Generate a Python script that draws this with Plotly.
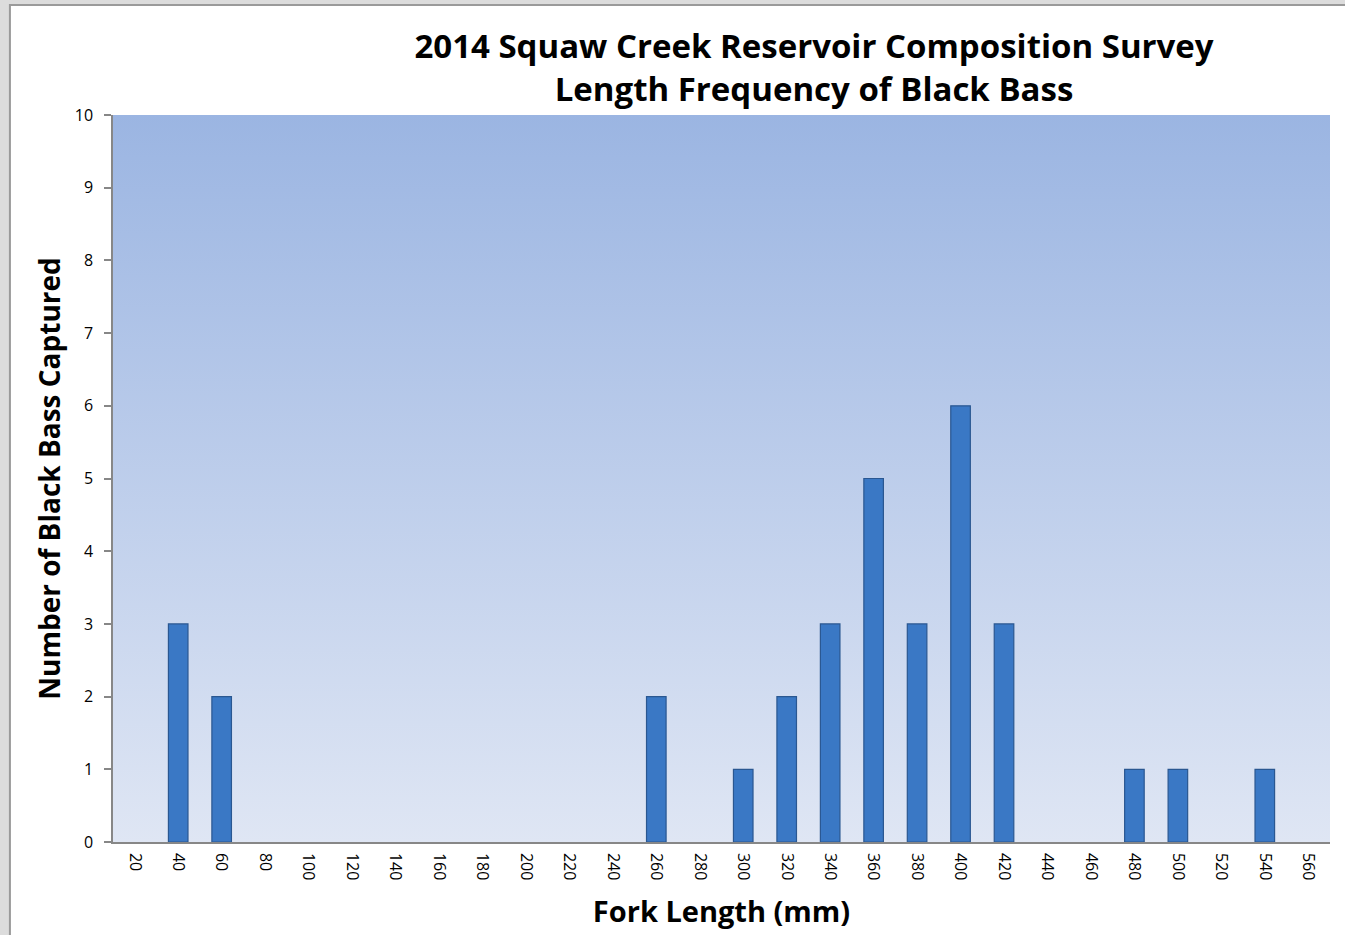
import plotly.graph_objects as go

# fork length classes (mm) and number of black bass captured
LENGTHS = [20, 40, 60, 80, 100, 120, 140, 160, 180, 200, 220, 240, 260, 280,
           300, 320, 340, 360, 380, 400, 420, 440, 460, 480, 500, 520, 540, 560]
COUNTS = [0, 3, 2, 0, 0, 0, 0, 0, 0, 0, 0, 0, 2, 0,
          1, 2, 3, 5, 3, 6, 3, 0, 0, 1, 1, 0, 1, 0]
Y_TICKS = list(range(0, 11))

TITLE = "2014 Squaw Creek Reservoir Composition Survey<br>Length Frequency of Black Bass"
FONT = "Open Sans"
AXIS_GREY = "#878787"

step = LENGTHS[1] - LENGTHS[0]
x_lo, x_hi = LENGTHS[0] - step / 2, LENGTHS[-1] + step / 2
y_lo, y_hi = Y_TICKS[0], Y_TICKS[-1]

# empty classes get no bar (Excel draws nothing there)
bar_x = [l for l, c in zip(LENGTHS, COUNTS) if c > 0]
bar_y = [c for c in COUNTS if c > 0]

fig = go.Figure()

# plot-area background gradient (on the base axes, bars sit on an overlay)
fig.add_trace(go.Scatter(
    x=[x_lo, x_hi, x_hi, x_lo, x_lo],
    y=[y_lo, y_lo, y_hi, y_hi, y_lo],
    mode="lines", line=dict(width=0), fill="toself",
    fillgradient=dict(type="vertical",
                      colorscale=[[0, "#dfe6f4"], [1, "#9bb5e2"]]),
    hoverinfo="skip", showlegend=False,
))

fig.add_trace(go.Bar(
    x=bar_x, y=bar_y, width=step * 0.45,
    xaxis="x2", yaxis="y2",
    marker=dict(color="#3a78c5", line=dict(color="#2a5791", width=1.2)),
    showlegend=False,
))

fig.update_layout(
    width=1345, height=935,
    margin=dict(l=113, r=15, t=115, b=93),
    paper_bgcolor="#dcdcdc",
    plot_bgcolor="#c4d2ec",
    font=dict(family=FONT, color="#000000"),
    title=dict(text=TITLE, x=814 / 1345, xanchor="center", xref="container",
               y=1 - 58 / 935, yanchor="middle", yref="container",
               font=dict(family=FONT, size=33, color="#000000", weight="bold")),
    xaxis=dict(range=[x_lo, x_hi], tickvals=LENGTHS, tickangle=90,
               ticks="", showgrid=False, zeroline=False,
               showline=True, linecolor=AXIS_GREY, linewidth=1.5,
               tickfont=dict(size=16), ticklabelstandoff=6,
               title=dict(text="Fork Length (mm)", standoff=22,
                          font=dict(size=29, weight="bold"))),
    yaxis=dict(range=[y_lo, y_hi], tickvals=Y_TICKS,
               ticks="outside", ticklen=7, tickcolor=AXIS_GREY, tickwidth=1.5,
               showgrid=False, zeroline=False,
               showline=True, linecolor=AXIS_GREY, linewidth=1.5,
               tickfont=dict(size=16), ticklabelstandoff=8,
               title=dict(text="Number of Black Bass Captured", standoff=6,
                          font=dict(size=28, weight="bold"))),
    xaxis2=dict(overlaying="x", matches="x", visible=False),
    yaxis2=dict(overlaying="y", matches="y", visible=False),
    shapes=[dict(type="rect", xref="paper", yref="paper", layer="below",
                 x0=-0.0847, x1=1.2, y0=-0.3, y1=1.1513,
                 fillcolor="#ffffff", line=dict(color="#9a9a9a", width=2))],
)

fig.write_html("out.html", config={"displayModeBar": False},
               post_script="document.body.style.margin='0px';")
